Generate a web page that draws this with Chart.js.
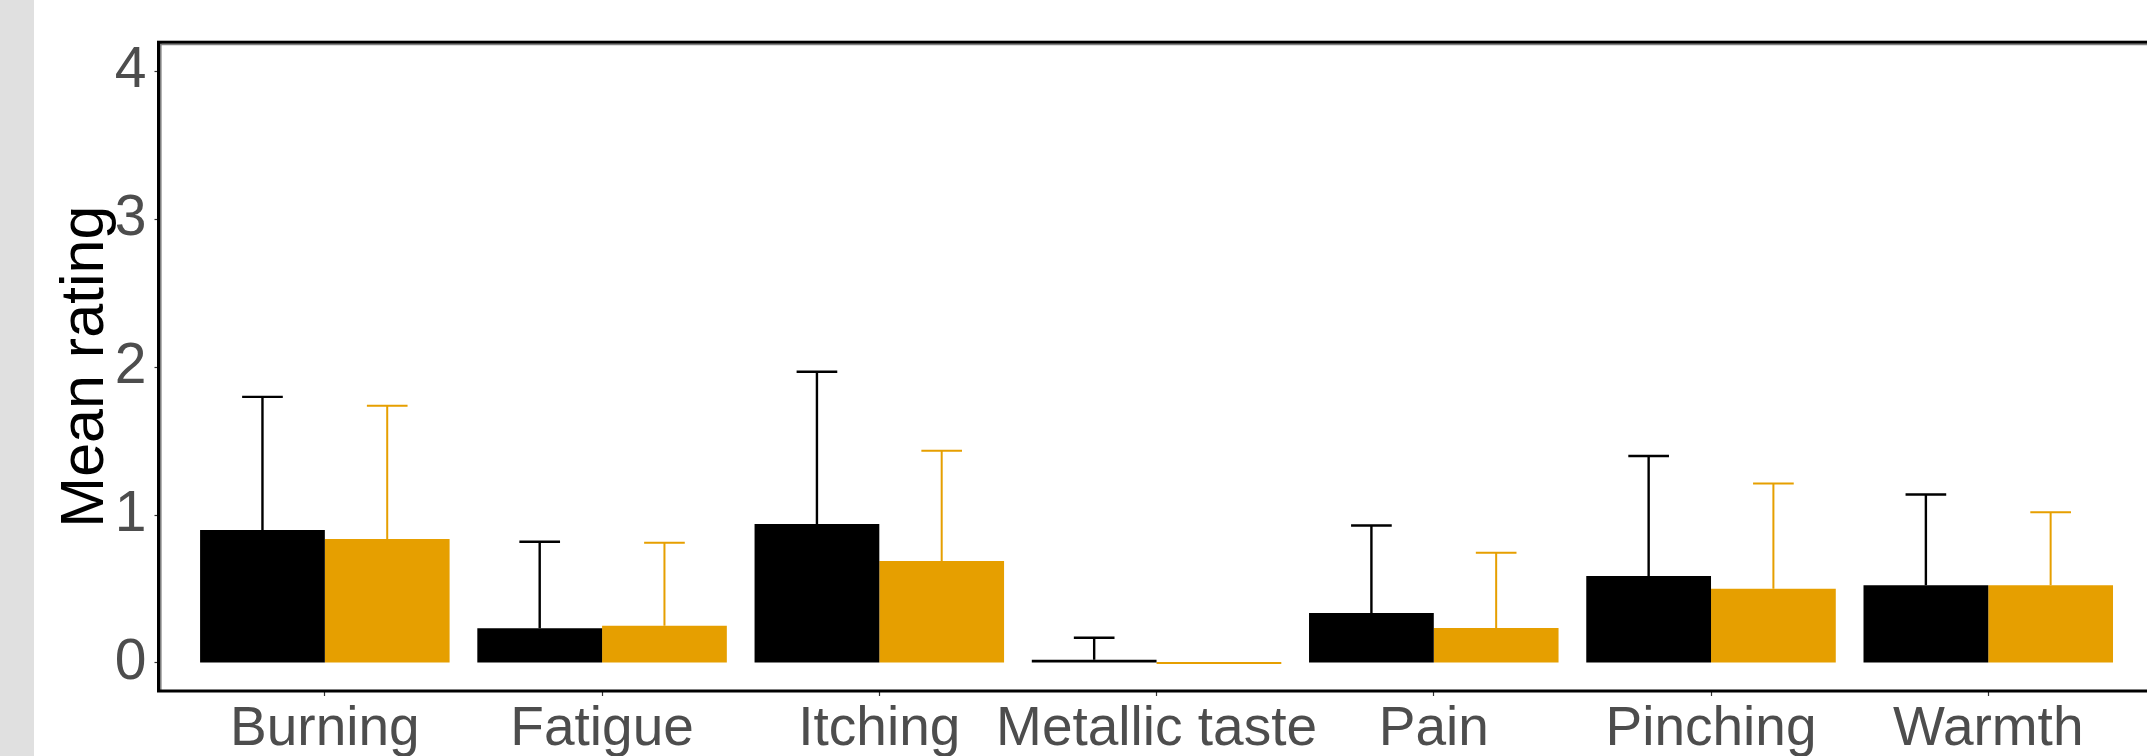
<!DOCTYPE html>
<html>
<head>
<meta charset="utf-8">
<script src="https://cdn.jsdelivr.net/npm/chart.js@4"></script>
<style>
  html, body { margin: 0; padding: 0; overflow: hidden; background: #ffffff; }
  #wrap { position: absolute; left: 0; top: 0; width: 2160px; height: 756px; }
</style>
</head>
<body>
<div id="wrap"><canvas id="c"></canvas></div>
<script>
// ---- data ----
const categories = ['Burning', 'Fatigue', 'Itching', 'Metallic taste', 'Pain', 'Pinching', 'Warmth'];
const meanBlack = [0.90, 0.235, 0.94, 0.022, 0.338, 0.588, 0.525];
const sdBlack   = [0.90, 0.585, 1.03, 0.148, 0.592, 0.812, 0.615];
const meanOrange = [0.838, 0.252, 0.689, 0.0, 0.236, 0.502, 0.525];
const sdOrange   = [0.902, 0.561, 0.747, 0.0, 0.509, 0.712, 0.495];
const yTicks = [0, 1, 2, 3, 4];
const yTitle = 'Mean rating';

const BLACK = '#000000';
const ORANGE = '#E69F00';
const FONT = '"Liberation Sans", Arial, sans-serif';

const toPoints = (arr) => arr.map((v, i) => ({ x: i, y: v }));

const errorBars = {
  id: 'errorBars',
  afterDatasetsDraw(chart) {
    const ctx = chart.ctx;
    const yScale = chart.scales.y;
    chart.data.datasets.forEach((ds, di) => {
      const meta = chart.getDatasetMeta(di);
      meta.data.forEach((bar, i) => {
        const sd = ds.sd[i];
        if (!sd) return;
        const m = ds.data[i].y;
        const yTop = yScale.getPixelForValue(m + sd);
        const yBase = yScale.getPixelForValue(m);
        const half = bar.width * 0.163;
        ctx.save();
        ctx.strokeStyle = ds.backgroundColor;
        ctx.lineWidth = ds.errWidth;
        ctx.beginPath();
        ctx.moveTo(bar.x, yBase);
        ctx.lineTo(bar.x, yTop);
        ctx.moveTo(bar.x - half, yTop);
        ctx.lineTo(bar.x + half, yTop);
        ctx.stroke();
        ctx.restore();
      });
    });
  }
};

const frame = {
  id: 'frame',
  beforeDraw(chart) {
    const ctx = chart.ctx;
    ctx.save();
    ctx.fillStyle = '#ffffff';
    ctx.fillRect(0, 0, chart.width, chart.height);
    ctx.fillStyle = '#e0e0e0';
    ctx.fillRect(0, 0, 34, chart.height);
    ctx.restore();
  },
  afterDatasetsDraw(chart) {
    const a = chart.chartArea;
    const ctx = chart.ctx;
    ctx.save();
    ctx.strokeStyle = '#808080';
    ctx.lineWidth = 1.6;
    ctx.beginPath();
    ctx.moveTo(a.left + 2.3, a.bottom);
    ctx.lineTo(a.left + 2.3, a.top);
    ctx.moveTo(a.left, a.top + 2.3);
    ctx.lineTo(a.right, a.top + 2.3);
    ctx.stroke();
    ctx.strokeStyle = '#000000';
    ctx.lineWidth = 3;
    ctx.strokeRect(a.left, a.top, a.right - a.left, a.bottom - a.top);
    ctx.restore();
  }
};

const chart = new Chart(document.getElementById('c'), {
  type: 'bar',
  data: {
    datasets: [
      { label: 'A', data: toPoints(meanBlack), sd: sdBlack, errWidth: 2.4, backgroundColor: BLACK, borderWidth: 0, minBarLength: 2 },
      { label: 'B', data: toPoints(meanOrange), sd: sdOrange, errWidth: 2, backgroundColor: ORANGE, borderWidth: 0, minBarLength: 2 }
    ]
  },
  options: {
    responsive: true,
    maintainAspectRatio: false,
    animation: false,
    devicePixelRatio: 1,
    categoryPercentage: 0.9,
    barPercentage: 1.0,
    layout: { padding: { left: 0, right: 5.4, top: 41.5, bottom: 0 } },
    plugins: { legend: { display: false }, tooltip: { enabled: false } },
    scales: {
      x: {
        type: 'linear',
        min: -0.6,
        max: 6.6,
        offset: false,
        afterFit(scale) { scale.height = 65; },
        afterBuildTicks(scale) { scale.ticks = categories.map((c, i) => ({ value: i })); },
        ticks: {
          autoSkip: false,
          maxRotation: 0,
          includeBounds: false,
          stepSize: 1,
          padding: 1,
          color: '#4D4D4D',
          font: { family: FONT, size: 55 },
          callback: (v) => categories[v] !== undefined ? categories[v] : ''
        },
        grid: { drawOnChartArea: false, drawTicks: true, tickLength: 5, tickColor: '#333333', tickWidth: 1.2, offset: false },
        border: { display: false }
      },
      y: {
        type: 'linear',
        min: -0.19,
        max: 4.2,
        afterFit(scale) { scale.width = 158.5; },
        afterBuildTicks(scale) { scale.ticks = yTicks.map(v => ({ value: v })); },
        ticks: {
          padding: 8,
          color: '#4D4D4D',
          font: { family: FONT, size: 57 }
        },
        grid: { drawOnChartArea: false, drawTicks: true, tickLength: 4, tickColor: '#333333', tickWidth: 1.2 },
        border: { display: false },
        title: {
          display: true,
          text: yTitle,
          color: '#000000',
          padding: { top: 50, bottom: 0 },
          font: { family: FONT, size: 61 }
        }
      }
    }
  },
  plugins: [frame, errorBars]
});
</script>
</body>
</html>
